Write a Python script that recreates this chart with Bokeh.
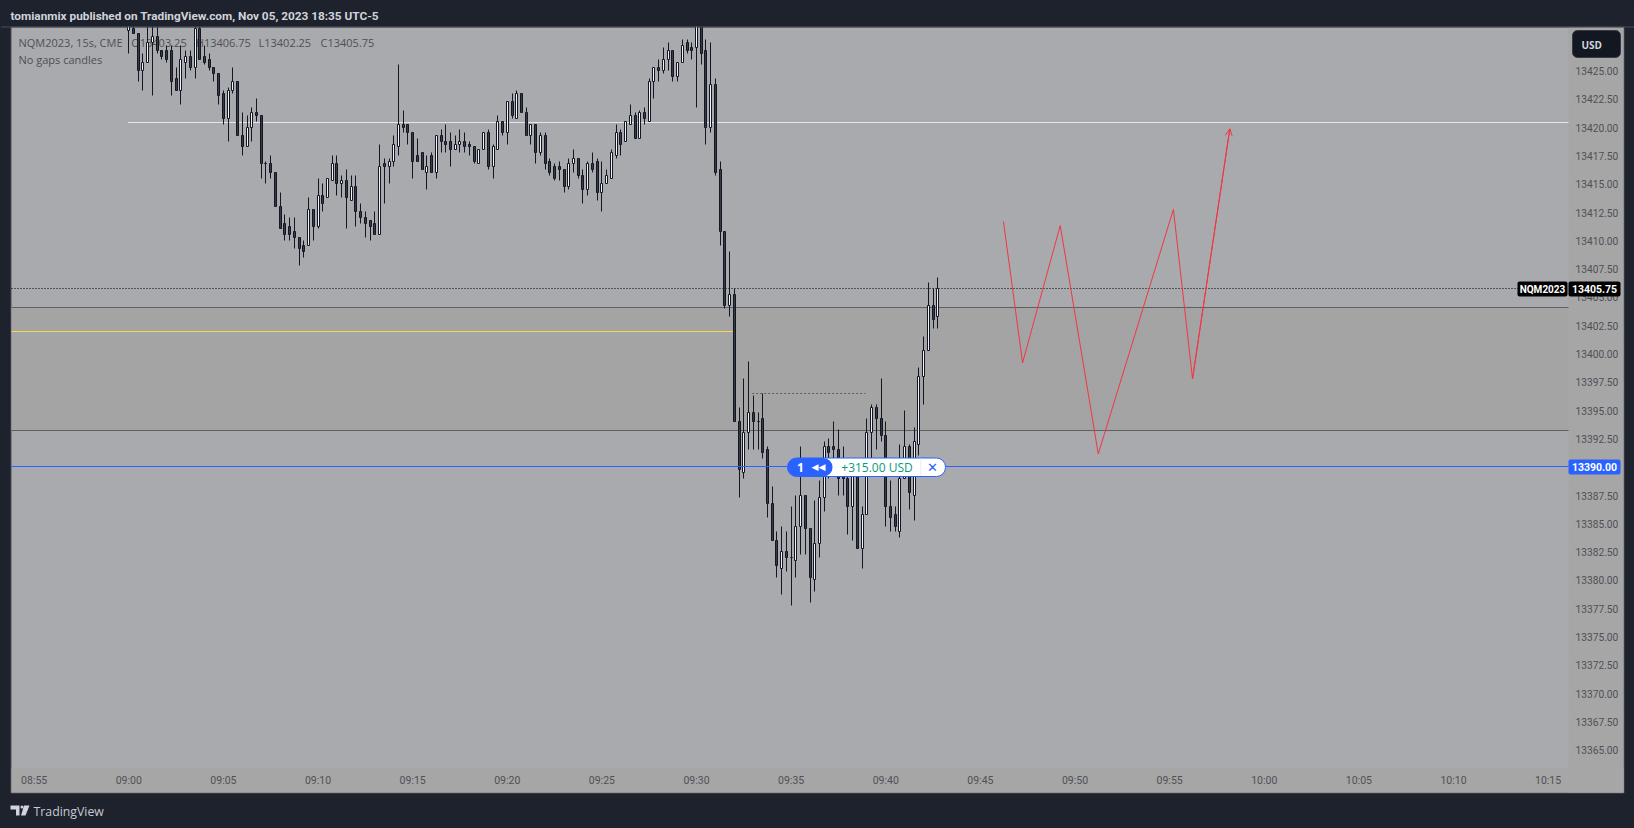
from math import floor
from bokeh.embed import file_html
from bokeh.resources import INLINE
from bokeh.plotting import figure
from bokeh.models import (ColumnDataSource, FixedTicker, Range1d, BoxAnnotation, Label,
                          Arrow, OpenHead, PolyAnnotation, NumeralTickFormatter)

opens = [13428.5,13428.75,13428.25,13425,13425.75,13427.5,13428,13426.75,13426.75,13426.75,
13424.25,13423.25,13425.75,13426.25,13425.25,13428.75,13426.25,13426,13425.25,13424.75,
13423,13420.75,13423.25,13424,13419.25,13418.25,13420,13421.25,13421,13416.75,
13416.75,13416,13413,13411.5,13411.25,13410.75,13410.25,13409.5,13409.5,13412.75,
13411.25,13414,13413.75,13415.25,13416.75,13415,13415.25,13413.5,13414.75,13412.5,
13412,13411.75,13411.5,13410.5,13416.75,13416.5,13417,13418.25,
13420.25,13420.25,13419.5,13417.5,13417.75,13416,13417.5,13416,13419.25,13418.75,
13418.75,13418,13418.5,13418.75,13418.5,13418.25,13416.75,13418,13419.5,13416.5,
13418,13420.5,13419.5,13422.25,13420.75,13423,13421.25,13419.25,13420.25,13417.75,
13419.25,13417,13416.5,13416.5,13416.25,13414.75,13416.75,13417.25,13415.75,13414.5,
13416.75,13417,13414.25,13415,13415.5,13417.5,13419.5,13418.75,13420.25,13421,
13419,13421.25,13420.5,13424,13425.25,13425,13426,13426.75,13424.5,13425.75,
13427.5,13427,13427,13429.5,13426.75,13420,13423.75,13416.25,13410.75,13404.25,
13405.25,13394,13389.5,13393,13394.75,13394,13394.25,13391.5,13386.75,13383.5,
13381,13382.5,13382,13381.75,13384.75,13387.5,13384.5,13380,13383.25,13387.25,
13391.75,13391.75,13391.5,13390.75,13389,13386.5,13389.5,13382.75,13385.75,13393,
13395.25,13394.25,13392.75,13386.5,13385.75,13384.25,13389,13391.75,13387.5,13392,
13398,13400.25,13404.25,13403.25]

highs = [13430.5,13429,13428.25,13426.5,13429,13429.5,13429.5,13426.75,13427.25,13427.25,
13425.25,13427.25,13426.75,13426.75,13429.5,13429.5,13427.25,13426.5,13425.25,13424.75,
13423.25,13423.5,13425.25,13424,13421.25,13421,13421.75,13422.5,13421,13417,
13417.5,13416,13414.25,13412.25,13412,13412,13410.25,13410,13413.75,13412.75,
13415.5,13415,13415.5,13417.5,13417.5,13415.75,13416.25,13415.75,13415.75,13413.25,
13412.5,13411.75,13412.5,13418.5,13417.25,13417.25,13419.25,13425.5,
13421.5,13420.25,13419.5,13419,13417.75,13417.5,13417.75,13419.25,13419.75,13420.25,
13419.5,13419.25,13419.75,13419.5,13418.75,13418.25,13418,13419.5,13419.75,13418.5,
13421,13420.5,13422.25,13423,13423.25,13423,13421.75,13420.25,13420.25,13419.5,
13419.5,13417.25,13416.75,13417,13416.25,13417.25,13418,13417.25,13416.25,13417,
13417.75,13417.25,13417,13416.25,13418,13420.25,13419.75,13420.5,13422,13421.25,
13421.5,13421.75,13424.25,13425.25,13426,13427,13427.5,13426.75,13425.75,13427.75,
13427.75,13427.5,13430,13430,13427.75,13427.5,13424.25,13417,13410.75,13409,
13405.75,13395.25,13397.75,13399.25,13396.25,13394.75,13396.5,13391.75,13388.25,13384.25,
13384.75,13384.25,13386.5,13387.5,13391.75,13387.5,13384.5,13387,13388.75,13392.25,
13392.5,13394,13393.25,13391.75,13389.5,13390,13389.5,13386.5,13394.25,13395.5,
13395.5,13397.75,13394,13388.75,13386.5,13392,13395,13392,13393.5,13398.75,
13401.5,13406.25,13405.75,13406.75]

lows = [13426.5,13428.25,13424,13423.25,13425.75,13422.75,13426.5,13426,13425.75,13422.75,
13423.25,13422,13424.25,13425,13424.25,13426,13425.5,13425,13424,13422,
13420.25,13418.75,13423,13419.25,13417.5,13418.25,13418.75,13420.5,13415.5,13415,
13415.5,13413,13411,13410,13410,13409.25,13407.75,13408.5,13409.5,13410,
13411,13412.5,13413.75,13415.25,13414,13413.75,13411,13413.5,13411.25,13411.5,
13410.25,13410,13410.5,13410.5,13413.25,13415,13416.5,13417.5,
13419.5,13418.5,13415.5,13417,13416.25,13414.5,13416,13415.5,13417.75,13417.75,
13416.5,13418,13417.75,13417.75,13417.5,13416.75,13416.75,13418,13416.25,13415.5,
13418,13419.25,13418.5,13420.75,13420.75,13421.25,13419.25,13418.5,13416.75,13417.5,
13416.25,13415.75,13415.25,13415.25,13414.25,13414.5,13416,13415.5,13413.25,13414,
13416,13413.5,13412.5,13415,13415.5,13417.25,13417.5,13418.75,13420.25,13419,
13419,13420.25,13420.5,13422.5,13424,13424.75,13425,13424,13424,13425.75,
13426.5,13426,13421.75,13425.5,13418.5,13419.5,13415.75,13409.5,13404,13403.25,
13394,13387.25,13389,13391.5,13391.5,13391.5,13390.75,13385.5,13383.5,13380.25,
13378.75,13380.75,13377.75,13380.25,13382.25,13382.25,13378,13379,13382,13386,
13389,13389.5,13387.5,13387.5,13384,13383.5,13382.75,13381,13385.75,13390.75,
13391.5,13392.25,13384.75,13384.25,13384.25,13383.75,13389,13386.25,13385.25,13391,
13395.5,13400.25,13402.25,13402.25]

closes = [13429,13428.25,13425,13425.75,13427.5,13428,13426.75,13426.25,13426,13424,
13423.25,13426,13426.25,13425.25,13428.75,13426,13425.75,13425.25,13424.75,13422.75,
13420.75,13423.25,13424,13419.25,13418.25,13420,13421.25,13421,13416.75,13416.75,
13416,13413,13411,13410.5,13410.5,13410.25,13409.25,13409,13412.75,13411.25,
13414,13413.25,13415.5,13416.75,13415,13415.25,13413.75,13414.75,13412.5,13412,
13411.5,13411.25,13410.5,13416.5,13416.5,13417,13418.5,13420.25,
13420,13419.5,13417,13417,13416.25,13416.5,13416,13419.25,13418.75,13418.5,
13418,13418.5,13418.75,13418.25,13418.25,13417,13418,13419.5,13416.5,13418.25,
13420.5,13419.5,13422.25,13421,13423,13421.25,13419.25,13420.25,13417.75,13419.25,
13416.75,13416,13415.5,13416.25,13414.75,13416.75,13417.25,13415.75,13414.5,13416.75,
13416.25,13414.25,13415,13415.75,13417.75,13419.5,13418.5,13420.5,13421,13419,
13421.25,13420.75,13424,13425.25,13425,13426,13426.75,13424.5,13425.75,13427.25,
13426.75,13426.75,13429.25,13426.5,13420,13423.75,13416,13410.75,13404.25,13405.25,
13394,13389.75,13393,13394.75,13394,13394,13391.25,13386.75,13383.5,13381.25,
13382.5,13382,13382,13384.75,13387.5,13384.5,13380.25,13383.25,13387.25,13391.75,
13391.25,13391.5,13389,13389,13386.5,13389.5,13382.75,13385.75,13393,13395.25,
13394.25,13392.75,13386.5,13385.5,13384.75,13389,13391.75,13387.75,13392.25,13398,
13400.25,13404.25,13403,13405.75]

bar_minutes = 0.25                      # 15 second bars, minutes after 09:00
red_minutes = [46.22, 47.23, 49.22, 51.23, 55.20, 56.21, 58.18]
red_prices = [13411.7, 13399.22, 13411.35, 13391.18, 13412.77, 13397.81, 13419.89]

time_ticks = [-5, 0, 5, 10, 15, 20, 25, 30, 35, 40, 45, 50, 55, 60, 65, 70, 75]
time_labels = ["08:55", "09:00", "09:05", "09:10", "09:15", "09:20", "09:25", "09:30", "09:35",
               "09:40", "09:45", "09:50", "09:55", "10:00", "10:05", "10:10", "10:15"]
price_ticks = [13365 + 2.5 * i for i in range(25)]

last_price = 13405.75
entry_price = 13390.0
white_level = 13420.42
yellow_level = 13401.95
zone_top = 13404.08
zone_bottom = 13393.2
yellow_end = 31.95
white_start = -0.05
dotted_level = 13396.46
dotted_start, dotted_end = 32.94, 38.93

BG = "#1e222d"
PANEL = "#a9aaad"
BAND = "#a6a6a6"
MUTED = "#4e5056"
DARK = "#131722"
FONT = "Open Sans"

W, H = 1634, 828
L_, R_, T_, B_ = 11, 1568, 27, 767
X0, PX_PER_MIN = 128.3, 18.924
Y0, PX_PER_PT = 466.7, 11.32

def mx(px):
    return (px - X0) / PX_PER_MIN

def py(px):
    return 13390 + (Y0 - px) / PX_PER_PT

def snap_y(price):
    return py(floor(Y0 - (price - 13390) * PX_PER_PT))

def snap_col(minutes):
    return round(X0 + minutes * PX_PER_MIN)

p = figure(width=W, height=H, output_backend="svg", toolbar_location=None,
           y_axis_location="right", x_range=Range1d(mx(0), mx(W)), y_range=Range1d(py(H), py(0)),
           min_border_left=0, min_border_right=0, min_border_top=0, min_border_bottom=0,
           background_fill_color=BG, border_fill_color=BG, outline_line_color=None)
p.grid.visible = False

def box(l, r, t, b, fill, line=None, radius=0, level="annotation", lw=1):
    bx = BoxAnnotation(left=l, right=r, top=t, bottom=b, left_units="canvas", right_units="canvas",
                       top_units="canvas", bottom_units="canvas", fill_color=fill, fill_alpha=1 if fill else 0,
                       line_color=line, line_alpha=1 if line else 0, line_width=lw,
                       border_radius=radius, level=level, editable=False)
    p.add_layout(bx)

def text(x, y, s, color, size, style="normal", align="left", level="annotation", font=FONT):
    p.add_layout(Label(x=x, y=y, x_units="canvas", y_units="canvas", text=s, text_color=color,
                       text_font=font, text_font_size=f"{size}px", text_font_style=style,
                       text_align=align, text_baseline="middle", level=level))

# panel and bands
box(10.5, 1623.5, 26.5, 792.5, PANEL, line="#4c4f59", level="underlay")
box(R_, 1623, T_, 792, BAND, level="underlay")
box(L_, 1623, B_, 792, BAND, level="underlay")

# legend under candles
for x_, s_ in [(18, "NQM2023, 15s, CME"), (130.7, "O13403.25"), (195.3, "H13406.75"),
               (258, "L13402.25"), (320, "C13405.75")]:
    text(x_, 42, s_, MUTED, 11, level="underlay")
text(18, 59, "No gaps candles", MUTED, 11, level="underlay")

# zone and levels
XL, XR = mx(L_), mx(R_)
p.quad(left=XL, right=XR, top=snap_y(zone_top), bottom=snap_y(zone_bottom), fill_color="#a5a4a4", line_color=None)
p.segment([XL, XL], [snap_y(zone_top), snap_y(zone_bottom)], [XR, XR], [snap_y(zone_top), snap_y(zone_bottom)],
          line_color="#5d5e5f", line_width=1)
p.segment([white_start], [snap_y(white_level)], [XR], [snap_y(white_level)], line_color="#e4e5e8", line_width=1)
p.segment([XL], [snap_y(yellow_level)], [yellow_end], [snap_y(yellow_level)], line_color="#f5d94a", line_width=1)
p.segment([dotted_start], [snap_y(dotted_level)], [dotted_end], [snap_y(dotted_level)], line_color="#5d5e5f",
          line_width=1, line_dash="2 2")
p.segment([XL], [snap_y(last_price)], [XR], [snap_y(last_price)], line_color="#000000", line_width=1, line_dash="1 2")

# candles, snapped to whole pixels the way the original chart draws them
n = len(opens)
cols = [snap_col(i * bar_minutes) for i in range(n)]
src = ColumnDataSource(dict(
    x=[mx(c) for c in cols],
    left=[mx(c - 1) for c in cols],
    right=[mx(c + 1) for c in cols],
    high=[snap_y(v) for v in highs],
    low=[snap_y(v) for v in lows],
    top=[snap_y(max(a, b)) for a, b in zip(opens, closes)],
    bottom=[snap_y(min(a, b)) for a, b in zip(opens, closes)],
    fill=["#f0f3fa" if c >= o else "#363a45" for o, c in zip(opens, closes)]))
p.segment("x", "high", "x", "low", source=src, line_color=DARK, line_width=1)
p.quad(left="left", right="right", top="top", bottom="bottom", source=src, fill_color="fill",
       line_color=DARK, line_width=1)

# blue level sits over candles
p.segment([XL], [snap_y(entry_price)], [XR], [snap_y(entry_price)], line_color="#2962ff", line_width=1)

# red path
p.line(red_minutes, red_prices, line_color="#f23645", line_width=1)
p.add_layout(Arrow(end=OpenHead(size=7, line_color="#f23645", line_width=1), x_start=red_minutes[-2],
                   y_start=red_prices[-2], x_end=red_minutes[-1], y_end=red_prices[-1],
                   line_color="#f23645", line_width=1))

# strip above the panel hides whatever rises past its top edge
box(0, W, 0, 26, BG)
box(0, W, 26, 27, "#4c4f59")

# axes drawn at the edges of the panel
ax = p.yaxis[0]
ax.fixed_location = mx(R_)
ax.ticker = FixedTicker(ticks=price_ticks)
ax.formatter = NumeralTickFormatter(format="0.00")
ax.axis_line_color = None
ax.major_tick_line_color = None
ax.minor_tick_line_color = None
ax.major_tick_out = 0
ax.major_tick_in = 0
ax.major_label_text_color = MUTED
ax.major_label_text_font = "Roboto"
ax.major_label_text_font_size = "10.2px"
ax.major_label_standoff = 7
xa = p.xaxis[0]
xa.fixed_location = py(B_)
xa.ticker = FixedTicker(ticks=time_ticks)
xa.major_label_overrides = dict(zip(time_ticks, time_labels))
xa.axis_line_color = None
xa.major_tick_line_color = None
xa.minor_tick_line_color = None
xa.major_tick_out = 0
xa.major_tick_in = 0
xa.major_label_text_color = MUTED
xa.major_label_text_font = "Roboto"
xa.major_label_text_font_size = "10.5px"
xa.major_label_standoff = 6

# top and footer
text(10, 15, "tomianmix published on TradingView.com, Nov 05, 2023 18:35 UTC-5", "#d1d4dc", 11.8, "bold", font="Roboto")
text(33, 811, "TradingView", "#c7c9d1", 12.3)
for xs_, ys_ in [([10, 19, 19, 15.5, 15.5, 10], [805, 805, 815, 815, 809, 809]),
                 ([23.5, 29, 25, 20.5], [805, 805, 815, 815])]:
    p.add_layout(PolyAnnotation(xs=xs_, ys=ys_, xs_units="canvas", ys_units="canvas", fill_color="#d1d4dc",
                                fill_alpha=1, line_color=None, editable=False))
box(20, 23, 805, 808, "#d1d4dc", radius=2)

# USD button
box(1572, 1620, 30, 57, DARK, line="#363a45", radius=5)
text(1581, 44, "USD", "#d1d4dc", 10, "bold")

# price flags
box(1517, 1567, 281, 296, "#000000", radius=2)
text(1542, 288.5, "NQM2023", "#ffffff", 10, "bold", align="center", font="Roboto")
box(1568, 1620, 281, 296, "#000000", radius=2)
text(1594, 288.5, "13405.75", "#ffffff", 10.5, "bold", align="center", font="Roboto")
box(1568, 1620, 459, 474, "#2962ff", radius=2)
text(1594, 466.5, "13390.00", "#ffffff", 10.5, "bold", align="center", font="Roboto")

# position pill
box(787, 945, 457.5, 476, "#ffffff", line="#2962ff", radius=9)
box(787, 832, 457.5, 476, "#2962ff", radius=9)
box(920, 920.7, 458, 475.5, "#e0e3eb")
text(800, 466.5, "1", "#ffffff", 12, "bold", align="center")
text(818, 466, "◀◀", "#ffffff", 9, align="center", font="DejaVu Sans")
text(876.5, 466.5, "+315.00 USD", "#089981", 12, align="center")
text(932, 466.5, "✕", "#2962ff", 13, align="center", font="DejaVu Sans")

html = file_html(p, INLINE)
html = html.replace("<head>", "<head><style>html,body{margin:0!important;padding:0;background:#1e222d;overflow:hidden}</style>", 1)
open("out.html", "w").write(html)
